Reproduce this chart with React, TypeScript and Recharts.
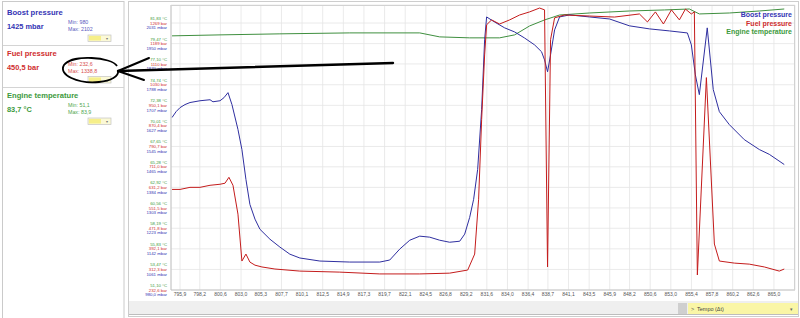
import React from "react";
import { LineChart, Line, XAxis, YAxis, CartesianGrid } from "recharts";

const FONT = '"Liberation Sans", Arial, Helvetica, sans-serif';

const BLUE = "#3434b4";
const RED = "#cf2e2e";
const GREEN = "#3d9a3d";

// time axis
const xTicks = [
  795.9, 798.2, 800.6, 803.0, 805.3, 807.7, 810.1, 812.5, 814.9, 817.3, 819.7, 822.1, 824.5, 826.8, 829.2,
  831.6, 834.0, 836.4, 838.7, 841.1, 843.5, 845.9, 848.2, 850.6, 853.0, 855.4, 857.8, 860.2, 862.6, 865.0,
];

// stacked y tick labels (one row per series)
const boostTicks = [980, 1061, 1142, 1223, 1303, 1384, 1465, 1545, 1627, 1707, 1788, 1870, 1950, 2031];
const boostTickLabels = [
  "980,0 mbar", "1061 mbar", "1142 mbar", "1223 mbar", "1303 mbar", "1384 mbar", "1465 mbar",
  "1545 mbar", "1627 mbar", "1707 mbar", "1788 mbar", "1870 mbar", "1950 mbar", "2031 mbar",
];
const fuelTickLabels = [
  "232,6 bar", "312,3 bar", "392,1 bar", "471,8 bar", "551,5 bar", "631,2 bar", "711,0 bar",
  "790,7 bar", "870,4 bar", "950,1 bar", "1030 bar", "1110 bar", "1189 bar", "1269 bar",
];
const tempTickLabels = [
  "51,10 °C", "53,47 °C", "55,83 °C", "58,19 °C", "60,56 °C", "62,92 °C", "65,28 °C",
  "67,65 °C", "70,01 °C", "72,38 °C", "74,74 °C", "77,10 °C", "79,47 °C", "81,83 °C",
];

// boost pressure (mbar)
const boostTime = [
  794.97, 795.44, 795.9, 796.48, 797.06, 798.22, 799.39, 799.73, 800.55, 801.01, 801.48, 801.94, 802.64,
  803.1, 803.57, 804.03, 804.62, 805.2, 806.36, 807.52, 808.68, 809.84, 812.17, 815.65, 819.14, 820.3,
  821.46, 822.63, 823.79, 824.95, 826.11, 827.27, 828.44, 829.02, 829.6, 830.06, 830.53, 830.99, 831.34,
  831.57, 832.5, 833.67, 834.83, 835.99, 837.15, 837.96, 838.31, 838.66, 839.01, 839.48, 840.06, 841.22,
  843.54, 845.87, 848.19, 850.51, 852.84, 854.93, 855.39, 855.86, 856.32, 857.24, 857.94, 858.65, 859.81,
  861.55, 863.3, 864.46, 866.2,
];
const boostValues = [
  1659, 1682, 1698, 1710, 1718, 1725, 1729, 1721, 1725, 1737, 1757, 1710, 1612, 1533, 1415, 1317, 1259,
  1219, 1180, 1149, 1121, 1106, 1094, 1090, 1090, 1098, 1141, 1176, 1192, 1188, 1176, 1168, 1172, 1200,
  1266, 1337, 1455, 1690, 1965, 2055, 2035, 2012, 1996, 1972, 1945, 1918, 1886, 1839, 1906, 2004, 2055,
  2063, 2055, 2047, 2020, 2008, 2000, 1992, 1945, 1827, 1749, 2012, 1769, 1682, 1631, 1572, 1533, 1514,
  1474,
];

// fuel pressure (bar)
const fuelTime = [
  794.97, 795.9, 797.06, 798.22, 799.39, 800.55, 801.13, 801.59, 802.06, 802.64, 803.1, 803.57, 804.03,
  804.62, 805.43, 806.94, 809.84, 814.49, 819.14, 823.79, 827.27, 829.37, 830.18, 830.64, 830.99, 831.34,
  831.57, 832.15, 833.08, 834.25, 835.41, 836.57, 837.73, 838.31, 838.66, 839.01, 839.48, 840.64, 843.54,
  846.45, 849.35, 850.28, 851.21, 852.14, 853.07, 854.0, 854.7, 855.39, 855.74, 856.09, 857.14, 858.07,
  858.65, 860.39, 862.13, 863.88, 865.62, 866.2,
];
const fuelValues = [
  623, 623, 631, 631, 639, 643, 647, 670, 639, 527, 345, 372, 341, 329, 322, 314, 306, 302, 295, 295, 298,
  310, 372, 585, 894, 1145, 1262, 1281, 1265, 1281, 1300, 1312, 1327, 1320, 322, 1204, 1289, 1300, 1296,
  1292, 1304, 1273, 1312, 1265, 1320, 1281, 1323, 1304, 1312, 291, 1057, 411, 345, 337, 333, 322, 306,
  314,
];

// engine temperature (°C)
const tempTime = [
  794.97, 800.55, 807.52, 815.65, 823.79, 826.11, 829.6, 833.08, 834.83, 836.57, 838.31, 840.06, 843.54,
  848.19, 852.26, 855.16, 856.32, 859.81, 863.3, 866.2,
];
const tempValues = [
  80.35, 80.46, 80.58, 80.69, 80.69, 80.23, 80.12, 80.12, 80.46, 81.49, 82.18, 82.75, 82.98, 83.21, 83.33,
  83.44, 82.87, 82.98, 83.21, 83.44,
];

const boostData = boostTime.map((t, i) => ({ t, v: boostValues[i] }));
const fuelData = fuelTime.map((t, i) => ({ t, v: fuelValues[i] }));
const tempData = tempTime.map((t, i) => ({ t, v: tempValues[i] }));

const fmtComma = (v: number) => v.toFixed(1).replace(".", ",");

function StackedTick(props: any) {
  const { x, y, payload } = props;
  const i = boostTicks.indexOf(payload.value);
  return (
    <g fontFamily={FONT} fontSize={4.3} textAnchor="end">
      <text x={x} y={y - 3} fill={GREEN}>{tempTickLabels[i]}</text>
      <text x={x} y={y + 1.6} fill={RED}>{fuelTickLabels[i]}</text>
      <text x={x} y={y + 6.2} fill={BLUE}>{boostTickLabels[i]}</text>
    </g>
  );
}

function Dropdown({ y }: { y: number }) {
  return (
    <g>
      <rect x={88} y={y} width={23} height={6.5} fill="#fbf9d6" stroke="#c4c4c4" strokeWidth={0.7} />
      <rect x={89} y={y + 1} width={12} height={4.5} fill="#f6ef8a" />
      <text x={106} y={y + 5} fontSize={4} fill="#777">▾</text>
    </g>
  );
}

function SensorBlock(p: { top: number; title: string; value: string; min: string; max: string; color: string; light: string }) {
  const { top, title, value, min, max, color, light } = p;
  return (
    <g fontFamily={FONT}>
      <text x={7} y={top + 14.5} fontSize={7.6} fontWeight="bold" fill={color}>{title}</text>
      <text x={7} y={top + 28.5} fontSize={7.4} fontWeight="bold" fill={color}>{value}</text>
      <text x={68} y={top + 24.3} fontSize={5.3} fill={light}>{min}</text>
      <text x={68} y={top + 31.4} fontSize={5.3} fill={light}>{max}</text>
      <Dropdown y={top + 35} />
    </g>
  );
}

function LeftPanel() {
  return (
    <svg width={126} height={318} style={{ position: "absolute", left: 0, top: 0 }}>
      <rect x={2.5} y={1.5} width={121.5} height={320} fill="#fff" stroke="#cacaca" />
      <SensorBlock top={0} title="Boost pressure" value="1425 mbar" min="Min: 980" max="Max: 2102" color={BLUE} light="#5a5ac0" />
      <line x1={3} x2={124} y1={45.5} y2={45.5} stroke="#d4d4d4" />
      <SensorBlock top={41.5} title="Fuel pressure" value="450,5 bar" min="Min: 232,6" max="Max: 1338,8" color={RED} light="#d85050" />
      <line x1={3} x2={124} y1={87.5} y2={87.5} stroke="#d4d4d4" />
      <SensorBlock top={83} title="Engine temperature" value="83,7 °C" min="Min: 51,1" max="Max: 83,9" color={GREEN} light="#4fa64f" />
    </svg>
  );
}

export default function App() {
  return (
    <div style={{ position: "fixed", left: 0, top: 0, width: 800, height: 318, background: "#fff", overflow: "hidden", fontFamily: FONT }}>
      <LeftPanel />
      <div style={{ position: "absolute", left: 128, top: 1, width: 671, height: 316, border: "1px solid #cdcdcd", boxSizing: "border-box" }} />
      <div style={{ position: "absolute", left: 127, top: 0 }}>
        <LineChart width={673} height={300} margin={{ top: 5, right: 5, bottom: 0, left: 0 }}>
          <CartesianGrid stroke="#e4e4e4" strokeWidth={0.8} />
          <XAxis
            type="number"
            dataKey="t"
            domain={[794.85, 867.45]}
            ticks={xTicks}
            interval={0}
            allowDataOverflow
            tickFormatter={fmtComma}
            tick={{ fontSize: 5, fill: "#555", fontFamily: FONT }}
            tickLine={false}
            tickSize={2}
            tickMargin={0}
            height={10}
            axisLine={{ stroke: "#c4c4c4" }}
          />
          <YAxis
            domain={[980, 2102]}
            ticks={boostTicks}
            interval={0}
            allowDataOverflow
            width={44}
            tickSize={0}
            tickMargin={4}
            tickLine={false}
            axisLine={{ stroke: "#c4c4c4" }}
            tick={(props: any) => <StackedTick {...props} />}
          />
          <YAxis yAxisId="fuel" hide domain={[232.6, 1338.8]} allowDataOverflow />
          <YAxis yAxisId="temp" hide domain={[51.1, 83.9]} allowDataOverflow />
          <Line data={tempData} yAxisId="temp" dataKey="v" type="linear" stroke="#3f8f3f" strokeWidth={1} dot={false} activeDot={false} isAnimationActive={false} />
          <Line data={boostData} dataKey="v" type="linear" stroke="#2f2fa0" strokeWidth={1} dot={false} activeDot={false} isAnimationActive={false} />
          <Line data={fuelData} yAxisId="fuel" dataKey="v" type="linear" stroke="#c41c1c" strokeWidth={1} dot={false} activeDot={false} isAnimationActive={false} />
        </LineChart>
      </div>
      {/* plot frame */}
      <div style={{ position: "absolute", left: 171, top: 5, width: 624, height: 285, border: "1px solid #d2d2d2", borderLeft: "none", borderBottom: "none", boxSizing: "border-box", pointerEvents: "none" }} />
      {/* legend */}
      <div style={{ position: "absolute", right: 8, top: 11, textAlign: "right", fontSize: 7, fontWeight: "bold", lineHeight: "8.6px" }}>
        <div style={{ color: BLUE }}>Boost pressure</div>
        <div style={{ color: RED }}>Fuel pressure</div>
        <div style={{ color: GREEN }}>Engine temperature</div>
      </div>
      {/* bottom bar */}
      <svg width={800} height={318} style={{ position: "absolute", left: 0, top: 0, pointerEvents: "none" }}>
        <rect x={129} y={301} width={669} height={13} fill="#efefef" />
        <line x1={129} x2={798} y1={314.5} y2={314.5} stroke="#bdbdbd" />
        <rect x={678} y={303} width={9} height={11} fill="#cfcfcf" />
        <rect x={688} y={303} width={110} height={11} fill="#faf6a6" />
        <text x={691} y={310.8} fontSize={5.5} fill="#555" fontFamily={FONT}>&gt;</text>
        <text x={697} y={310.8} fontSize={5.5} fill="#444" fontFamily={FONT}>Tempo (Δt)</text>
        <text x={790} y={310.8} fontSize={5} fill="#666" fontFamily={FONT}>▾</text>
        {/* hand-drawn annotation */}
        <path d="M117,66 C112,57 72,54 64,65 C58,75 78,84 99,82 C111,81 119,76 118,71" fill="none" stroke="#000" strokeWidth={1.8} />
        <path d="M118,71 L393,63" stroke="#000" strokeWidth={2.4} strokeLinecap="round" />
        <path d="M118,71 L149,58 M118,71 L144,80" stroke="#000" strokeWidth={2} strokeLinecap="round" />
      </svg>
    </div>
  );
}
